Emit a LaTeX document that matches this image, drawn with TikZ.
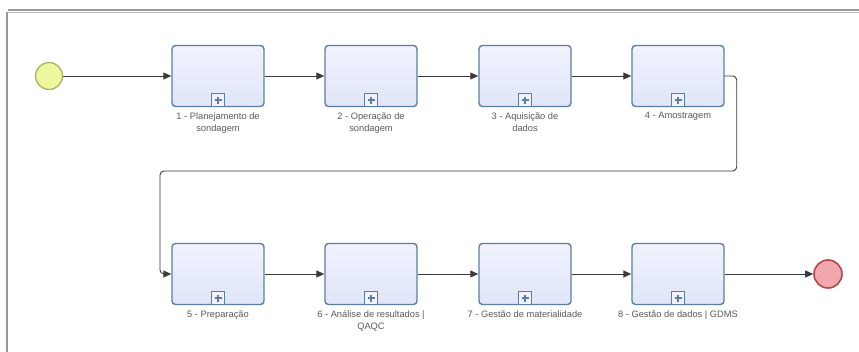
\documentclass[tikz,border=0pt]{standalone}
\usepackage{fontspec}
\setmainfont{Liberation Sans}
\usetikzlibrary{arrows.meta}
\definecolor{taskline}{HTML}{5B7FA3}
\definecolor{taskfillA}{HTML}{F1F2FD}
\definecolor{taskfillB}{HTML}{DFE6F8}
\definecolor{flowline}{HTML}{3A3A3A}
\definecolor{labelgray}{HTML}{5A5A5A}
\definecolor{startfill}{HTML}{EEF79E}
\definecolor{startline}{HTML}{A7B45E}
\definecolor{endfill}{HTML}{F2A7AE}
\definecolor{endline}{HTML}{B5474F}
\definecolor{framegray}{HTML}{999999}
\begin{document}
\begin{tikzpicture}[x=1pt,y=-1pt,
  task/.style={draw=taskline, line width=1.4pt, rounded corners=3.5pt,
    top color=taskfillA, bottom color=taskfillB,
    minimum width=92pt, minimum height=61pt, inner sep=0pt},
  submark/.style={draw=taskline, line width=1.1pt, fill=taskfillA,
    minimum size=13pt, inner sep=0pt},
  tasklabel/.style={font=\fontsize{9.3pt}{12.5pt}\selectfont, text=labelgray,
    align=center, anchor=north, inner sep=0pt},
  flow/.style={draw=flowline, line width=0.9pt,
    -{Triangle[length=8pt,width=7pt]}},
  startev/.style={circle, draw=startline, line width=1.3pt, fill=startfill,
    minimum size=27pt, inner sep=0pt},
  endev/.style={circle, draw=endline, line width=1.6pt, fill=endfill,
    minimum size=28pt, inner sep=0pt}]
\useasboundingbox (0,0) rectangle (859,352);
\fill[white] (0,0) rectangle (859,352);

% window frame
\draw[framegray, line width=1.6pt] (8,10) -- (859,10);
\draw[framegray!70, line width=0.8pt] (7,12.5) -- (859,12.5);
\draw[framegray, line width=1.6pt] (7,12) -- (7,352);

% events
\node[startev] (start) at (49,76) {};
\node[endev] (end) at (828,274) {};

% sub-process tasks
\foreach \n/\x/\y in {1/218/76, 2/371/76, 3/525/76, 4/678/76,
                      5/218/274, 6/371/274, 7/525/274, 8/678/274}{
  \node[task] (t\n) at (\x,\y) {};
  \node[submark] (m\n) at ([yshift=7pt]t\n.south) {};
  \draw[taskline, line width=1.4pt] ([xshift=-3.5pt]m\n.center) -- ([xshift=3.5pt]m\n.center)
    ([yshift=-3.5pt]m\n.center) -- ([yshift=3.5pt]m\n.center);
}

% labels
\node[tasklabel] (l1) at ([yshift=-5pt]t1.south) {1 - Planejamento de\\sondagem};
\node[tasklabel] (l2) at ([yshift=-5pt]t2.south) {2 - Operação de\\sondagem};
\node[tasklabel] (l3) at ([yshift=-5pt]t3.south) {3 - Aquisição de\\dados};
\node[tasklabel] (l4) at ([yshift=-5pt]t4.south) {4 - Amostragem};
\node[tasklabel] (l5) at ([yshift=-5pt]t5.south) {5 - Preparação};
\node[tasklabel] (l6) at ([yshift=-5pt]t6.south) {6 - Análise de resultados |\\QAQC};
\node[tasklabel] (l7) at ([yshift=-5pt]t7.south) {7 - Gestão de materialidade};
\node[tasklabel] (l8) at ([yshift=-5pt]t8.south) {8 - Gestão de dados | GDMS};

% sequence flows
\draw[flow] (start) -- (t1);
\draw[flow] (t1) -- (t2);
\draw[flow] (t2) -- (t3);
\draw[flow] (t3) -- (t4);
\draw[flow, rounded corners=4pt] (t4.east) -- ++(12,0) |- (160,171) |- (t5.west);
\draw[flow] (t5) -- (t6);
\draw[flow] (t6) -- (t7);
\draw[flow] (t7) -- (t8);
\draw[flow] (t8) -- (end);
\end{tikzpicture}
\end{document}
